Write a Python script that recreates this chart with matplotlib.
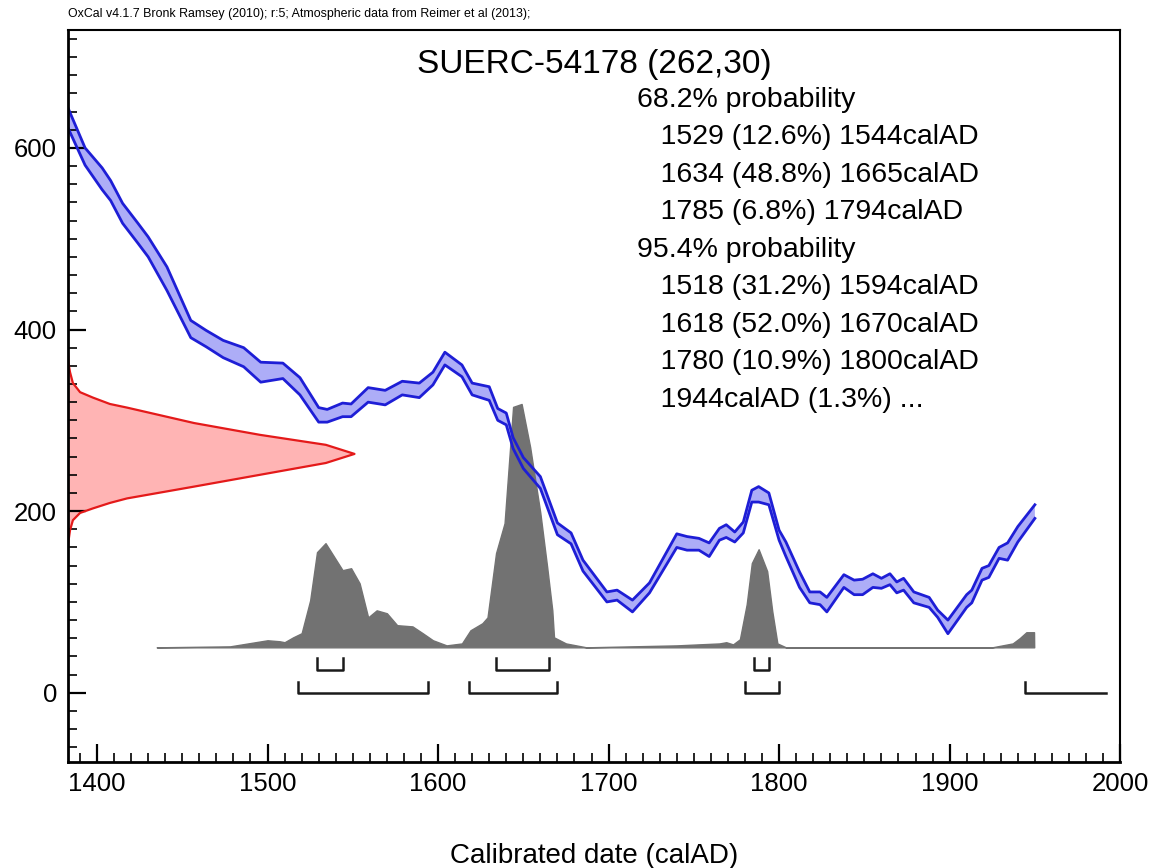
import numpy as np
import matplotlib.pyplot as plt
from matplotlib.ticker import MultipleLocator, FixedLocator

plt.rcParams['font.family'] = ['Liberation Sans', 'DejaVu Sans']

# calibration curve band (calAD, radiocarbon BP upper / lower)
cal_year = [1383, 1393, 1403, 1408, 1415, 1424, 1430, 1441, 1455, 1464, 1474, 1486,
            1496, 1509, 1519, 1530, 1535, 1544, 1549, 1559, 1569, 1579, 1589, 1597,
            1604, 1614, 1620, 1630, 1635, 1640, 1644, 1650, 1660, 1670, 1678, 1685,
            1699, 1705, 1714, 1724, 1740, 1746, 1753, 1759, 1765, 1769, 1774, 1779,
            1784, 1788, 1794, 1800, 1804, 1812, 1818, 1824, 1828, 1838, 1844, 1849,
            1855, 1860, 1865, 1869, 1873, 1879, 1888, 1893, 1899, 1910, 1913, 1919,
            1923, 1929, 1934, 1940, 1950]
cal_upper = [644, 600, 578, 564, 539, 517, 502, 469, 410, 399, 388, 380,
             364, 363, 347, 314, 312, 319, 318, 336, 333, 343, 341, 353,
             375, 361, 341, 337, 313, 308, 281, 259, 238, 187, 176, 146,
             111, 113, 102, 121, 175, 172, 170, 165, 181, 185, 177, 188,
             223, 227, 220, 179, 166, 133, 111, 111, 105, 130, 124, 125,
             131, 126, 131, 122, 126, 111, 105, 91, 80, 108, 113, 137,
             140, 160, 165, 183, 207]
cal_lower = [622, 581, 554, 542, 517, 495, 480, 443, 391, 381, 369, 359,
             342, 346, 328, 298, 298, 304, 304, 320, 317, 328, 325, 339,
             361, 348, 328, 322, 300, 295, 269, 247, 225, 174, 164, 134,
             100, 102, 89, 110, 160, 157, 157, 150, 168, 171, 166, 176,
             210, 210, 207, 168, 150, 116, 99, 97, 89, 116, 108, 108,
             116, 115, 119, 110, 113, 99, 94, 83, 65, 94, 99, 124,
             127, 148, 146, 166, 192]

# radiocarbon determination 262 +/- 30 (relative density)
r_bp = [374, 362, 353, 341, 331, 325, 318, 314, 297, 284, 273, 263, 253, 240, 227,
        214, 209, 203, 198, 190, 179, 168, 160]
r_dens = [0, 0.002, 0.007, 0.017, 0.042, 0.087, 0.146, 0.206, 0.44, 0.67, 0.90, 1.0,
          0.90, 0.67, 0.44, 0.206, 0.146, 0.087, 0.042, 0.017, 0.007, 0.002, 0]

# calibrated probability (relative)
g_year = [1435, 1478, 1500, 1507, 1510, 1515, 1520, 1525, 1529, 1534, 1544, 1549,
          1554, 1559, 1564, 1570, 1576, 1585, 1591, 1597, 1605, 1614, 1619, 1626,
          1629, 1634, 1639, 1644, 1649, 1654, 1660, 1664, 1667, 1668, 1675, 1687,
          1740, 1765, 1769, 1773, 1777, 1781, 1784, 1788, 1793, 1796, 1799, 1804,
          1925, 1937, 1941, 1945, 1949.5, 1949.6]
g_prob = [0, .004, .029, .025, .021, .041, .058, .193, .391, .428, .317, .325,
          .263, .123, .152, .140, .091, .086, .058, .029, .008, .016, .070, .099,
          .123, .387, .510, .988, 1.0, .823, .551, .329, .152, .041, .016, 0,
          .008, .016, .021, .012, .033, .177, .346, .403, .313, .148, .016, 0,
          0, .016, .037, .062, .062, 0]

# ranges
r68 = [(1529, 1544), (1634, 1665), (1785, 1794)]
r95 = [(1518, 1594), (1618, 1670), (1780, 1800), (1944, 1992)]

lines = ["68.2% probability",
         "   1529 (12.6%) 1544calAD",
         "   1634 (48.8%) 1665calAD",
         "   1785 (6.8%) 1794calAD",
         "95.4% probability",
         "   1518 (31.2%) 1594calAD",
         "   1618 (52.0%) 1670calAD",
         "   1780 (10.9%) 1800calAD",
         "   1944calAD (1.3%) ..."]

fig = plt.figure(figsize=(11.53, 8.68), dpi=100)
ax = fig.add_axes([0.059, 0.1221, 0.9125, 0.8433])
x0, x1 = 1383, 2000
ax.set_xlim(x0, x1)
ax.set_ylim(-76.3, 729.8)

# red: measured date on y axis
rd = x0 + np.array(r_dens) * 168
ax.fill_betweenx(r_bp, x0, rd, facecolor='#ffb4b4', edgecolor='none')
ax.plot(rd, r_bp, color='#e41a1a', lw=1.6)

# blue calibration curve
ax.fill_between(cal_year, cal_upper, cal_lower, facecolor='#adadf7', edgecolor='none')
ax.plot(cal_year, cal_upper, color='#1e1ed6', lw=2)
ax.plot(cal_year, cal_lower, color='#1e1ed6', lw=2)

# grey posterior
base = 50
ax.fill_between(g_year, base, base + np.array(g_prob) * 268,
                facecolor='#727272', edgecolor='#727272', lw=1)

# range brackets
def bracket(a, b, y, h, close=True):
    if close:
        ax.plot([a, a, b, b], [y + h, y, y, y + h], color='#1a1a1a', lw=1.8)
    else:
        ax.plot([a, a, b], [y + h, y, y], color='#1a1a1a', lw=1.8)

for a, b in r68:
    bracket(a, b, 25, 13)
for i, (a, b) in enumerate(r95):
    bracket(a, b, 0, 12, close=(i < len(r95) - 1))

# texts
ax.text(0.5, 0.953, "SUERC-54178 (262,30)", transform=ax.transAxes,
        ha='center', va='center', fontsize=24)
for i, s in enumerate(lines):
    ax.text(0.541, 0.905 - i * 0.0513, s, transform=ax.transAxes,
            ha='left', va='center', fontsize=20.5)

fig.text(0.059, 0.984, "OxCal v4.1.7 Bronk Ramsey (2010); r:5; Atmospheric data from Reimer et al (2013);",
         ha='left', va='center', fontsize=8.9)
fig.text(0.515, 0.014, "Calibrated date (calAD)", ha='center', va='center', fontsize=20)

# axes styling
ax.xaxis.set_major_locator(MultipleLocator(100))
ax.xaxis.set_minor_locator(MultipleLocator(10))
ax.yaxis.set_major_locator(FixedLocator([0, 200, 400, 600]))
ax.yaxis.set_minor_locator(MultipleLocator(20))
ax.tick_params(which='both', direction='in', top=False, right=False, labelsize=18.5)
ax.tick_params(which='major', length=13, width=1.6)
ax.tick_params(which='minor', length=6.5, width=1.2)
ax.tick_params(axis='x', pad=7)
ax.tick_params(axis='y', pad=8)
for side in ['left', 'bottom']:
    ax.spines[side].set_linewidth(2)
for side in ['top', 'right']:
    ax.spines[side].set_linewidth(1.5)

fig.savefig('out.png', dpi=100)
